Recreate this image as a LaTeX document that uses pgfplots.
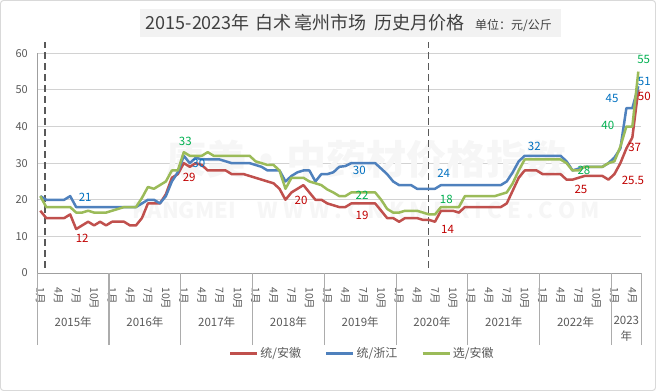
\documentclass[border=0pt]{standalone}
\usepackage{fontspec}
\setmainfont{Noto Sans CJK SC}
\usepackage{pgfplots}
\pgfplotsset{compat=1.18}
\usepackage{pgfplotstable}
\definecolor{cred}{HTML}{C0504D}
\definecolor{cblue}{HTML}{4F81BD}
\definecolor{cgreen}{HTML}{9BBB59}
\definecolor{lred}{HTML}{C00000}
\definecolor{lblue}{HTML}{0070C0}
\definecolor{lgreen}{HTML}{00B050}
\definecolor{tgray}{HTML}{595959}
\definecolor{ttl}{HTML}{404040}
\pgfplotstableread{
x r b g
0.5 17 21 21
1.5 15 20 18
2.5 15 20 18
3.5 15 20 18
4.5 15 20 18
5.5 16 21 18
6.5 12 18 16.5
7.5 13 18 16.5
8.5 14 18 17
9.5 13 18 16.5
10.5 14 18 16.5
11.5 13 18 16.5
12.5 14 18 17
13.5 14 18 17.5
14.5 14 18 18
15.5 13 18 18
16.5 13 18 18
17.5 15 19 20.5
18.5 19 20 23.5
19.5 19 20 23
20.5 19 19 24
21.5 21.5 21 25
22.5 26 25 28
23.5 27 27.5 28
24.5 30 32 33
25.5 29 30 32
26.5 30 31.5 32
27.5 29.5 31 32
28.5 28 31 33
29.5 28 31 32
30.5 28 31 32
31.5 28 30.5 32
32.5 27 30 32
33.5 27 30 32
34.5 27 30 32
35.5 26.5 30 32
36.5 26 29.5 30.5
37.5 25.5 29 30
38.5 25 28 29.5
39.5 24.5 28 29.5
40.5 23 28 28
41.5 20 25 23
42.5 22 26.5 26
43.5 23 27.5 26
44.5 24 28 26
45.5 22 28 25
46.5 20 25 24.5
47.5 20 27 24
48.5 19 27 22.8
49.5 18.5 27.5 22
50.5 18 29 21
51.5 18 29.2 21
52.5 19 30 22
53.5 19 30 22
54.5 19 30 22
55.5 19 30 22
56.5 19 30 22
57.5 17 28.5 20
58.5 15 27 17.5
59.5 15 25 16.5
60.5 14 24 16.5
61.5 15 24 17
62.5 15 24 17
63.5 15 23 17
64.5 14.5 23 16.5
65.5 14.5 23 16
66.5 14 23 16
67.5 17 24 18
68.5 17 24 18
69.5 17 24 18
70.5 16.5 24 18
71.5 18 24 21
72.5 18 24 21
73.5 18 24 21
74.5 18 24 21
75.5 18 24 21
76.5 18 24 21
77.5 18 24 21.5
78.5 19 25 22
79.5 22.5 27.5 24.5
80.5 26 30.5 28
81.5 28 32 31
82.5 28 32 31
83.5 28 32 31
84.5 27 32 31
85.5 27 32 31
86.5 27 32 31
87.5 27 32 31
88.5 25.5 30.5 30
89.5 25.5 28 28
90.5 26 28.5 28
91.5 26.5 29 29
92.5 26.5 29 29
93.5 26.5 29 29
94.5 26.5 29 29
95.5 25.5 30 30
96.5 27 31.5 30.5
97.5 30 34 34.5
98.5 34 45 40
99.5 37 45 40
100.5 50 51 55
}\datatable
\begin{document}
\begin{tikzpicture}
\useasboundingbox (0,0) rectangle (656bp,391bp);
\draw[gray!30, line width=1bp, rounded corners=3bp] (0.5bp,0.5bp) rectangle (655.5bp,390.5bp);
\fill[gray!10] (140bp,354.3bp) rectangle (561bp,382bp);
\begin{scope}[every node/.style={anchor=base west, inner sep=0pt, text=ttl, font=\fontsize{18bp}{20bp}\selectfont}]
\node at (145.6bp,361bp) {2015-2023年};
\node at (255bp,361bp) {白术};
\node at (294bp,361bp) {亳州市场};
\node at (374.5bp,361bp) {历史月价格};
\node[font=\fontsize{12bp}{14bp}\selectfont] at (475bp,361bp) {单位：元/公斤};
\end{scope}
\begin{axis}[
  at={(37.3bp,118bp)}, anchor=south west,
  scale only axis, width=604bp, height=219.7bp,
  xmin=0, xmax=101, ymin=0, ymax=60,
  clip=false,
  axis x line=bottom, axis y line=left,
  axis line style={-, draw=gray!75, line width=1bp},
  major tick length=0pt,
  tick align=inside,
  ytick={0,10,...,60},
  ymajorgrids,
  grid style={draw=gray!35, line width=1bp},
  yticklabel style={font=\fontsize{11bp}{13bp}\selectfont, text=tgray, xshift=-6bp},
  /pgf/number format/assume math mode=true,
  xtick={0.5,3.5,...,99.5},
  xticklabels={1月,4月,7月,10月,1月,4月,7月,10月,1月,4月,7月,10月,1月,4月,7月,10月,1月,4月,7月,10月,1月,4月,7月,10月,1月,4月,7月,10月,1月,4月,7月,10月,1月,4月},
  xticklabel style={font=\fontsize{10.5bp}{12bp}\selectfont, text=tgray, inner sep=0pt, yshift=-14bp, rotate=-90, anchor=west},
  xtick style={draw=gray!65, line width=1.2bp},
  extra x ticks={0,12,24,36,48,60,72,84,96,101},
  extra x tick labels={},
  extra x tick style={major tick length=72bp, tick align=outside, grid=none},
  legend style={at={(0.317,-0.366)}, anchor=west, draw=none, fill=none, inner sep=0pt,
    legend columns=3, font=\fontsize{12bp}{14bp}\selectfont, text=tgray,
    /tikz/every even column/.append style={column sep=22bp}},
  legend image code/.code={\draw[#1] (0bp,0bp) -- (27bp,0bp);},
  every axis plot/.append style={line width=2.5bp, line join=round},
]
\node[text=gray!7, font=\fontsize{40bp}{40bp}\selectfont\bfseries] at (axis cs:55,31) {康美·中药材价格指数};
\node[text=gray!7, font=\fontsize{22bp}{22bp}\selectfont\bfseries] at (axis cs:55,17) {KANGMEI\quad W W W . C N K M P R I C E . C O M};
\addplot[forget plot, draw=tgray, line width=1.5bp, dash pattern=on 7bp off 4bp] coordinates {(1.29,1.4) (1.29,63.1)};
\addplot[forget plot, draw=tgray, line width=1.5bp, dash pattern=on 7bp off 4bp] coordinates {(65.4,1.4) (65.4,63.1)};
\addplot[cred] table[x=x, y=r] {\datatable};
\addlegendentry{统/安徽}
\addplot[cblue] table[x=x, y=b] {\datatable};
\addlegendentry{统/浙江}
\addplot[cgreen] table[x=x, y=g] {\datatable};
\addlegendentry{选/安徽}
\begin{scope}[every node/.style={font=\fontsize{11.5bp}{14bp}\selectfont, inner sep=0pt}]
\node[text=lblue] at (axis cs:8.0,20.8) {21};
\node[text=lred] at (axis cs:7.5,9.5) {12};
\node[text=lgreen] at (axis cs:24.75,35.9) {33};
\node[text=lblue] at (axis cs:27,29.8) {30};
\node[text=lred] at (axis cs:25.4,26) {29};
\node[text=lblue] at (axis cs:53.85,27.9) {30};
\node[text=lred] at (axis cs:44.1,19.7) {20};
\node[text=lgreen] at (axis cs:54.3,21.3) {22};
\node[text=lred] at (axis cs:54.3,15.7) {19};
\node[text=lblue] at (axis cs:67.96,27.2) {24};
\node[text=lgreen] at (axis cs:68.4,20.1) {18};
\node[text=lred] at (axis cs:68.6,11.9) {14};
\node[text=lblue] at (axis cs:83.1,34.7) {32};
\node[text=lgreen] at (axis cs:91.4,27.9) {28};
\node[text=lred] at (axis cs:90.9,22.7) {25};
\node[text=lred] at (axis cs:99.6,25.2) {25.5};
\node[text=lred] at (axis cs:99.9,34.2) {37};
\node[text=lgreen] at (axis cs:95.4,40.2) {40};
\node[text=lblue] at (axis cs:96.1,47.7) {45};
\node[text=lgreen] at (axis cs:101.4,58.2) {55};
\node[text=lblue] at (axis cs:101.5,52.2) {51};
\node[text=lred] at (axis cs:101.5,48.2) {50};
\end{scope}
\begin{scope}[every node/.style={font=\fontsize{11.5bp}{16bp}\selectfont, text=tgray, inner sep=0pt}]
\node at (axis cs:6,0) [yshift=-48.7bp] {2015年};
\node at (axis cs:18,0) [yshift=-48.7bp] {2016年};
\node at (axis cs:30,0) [yshift=-48.7bp] {2017年};
\node at (axis cs:42,0) [yshift=-48.7bp] {2018年};
\node at (axis cs:54,0) [yshift=-48.7bp] {2019年};
\node at (axis cs:66,0) [yshift=-48.7bp] {2020年};
\node at (axis cs:78,0) [yshift=-48.7bp] {2021年};
\node at (axis cs:90,0) [yshift=-48.7bp] {2022年};
\node[align=center] at (axis cs:98.5,0) [yshift=-56bp] {2023\\年};
\end{scope}
\end{axis}
\end{tikzpicture}
\end{document}
